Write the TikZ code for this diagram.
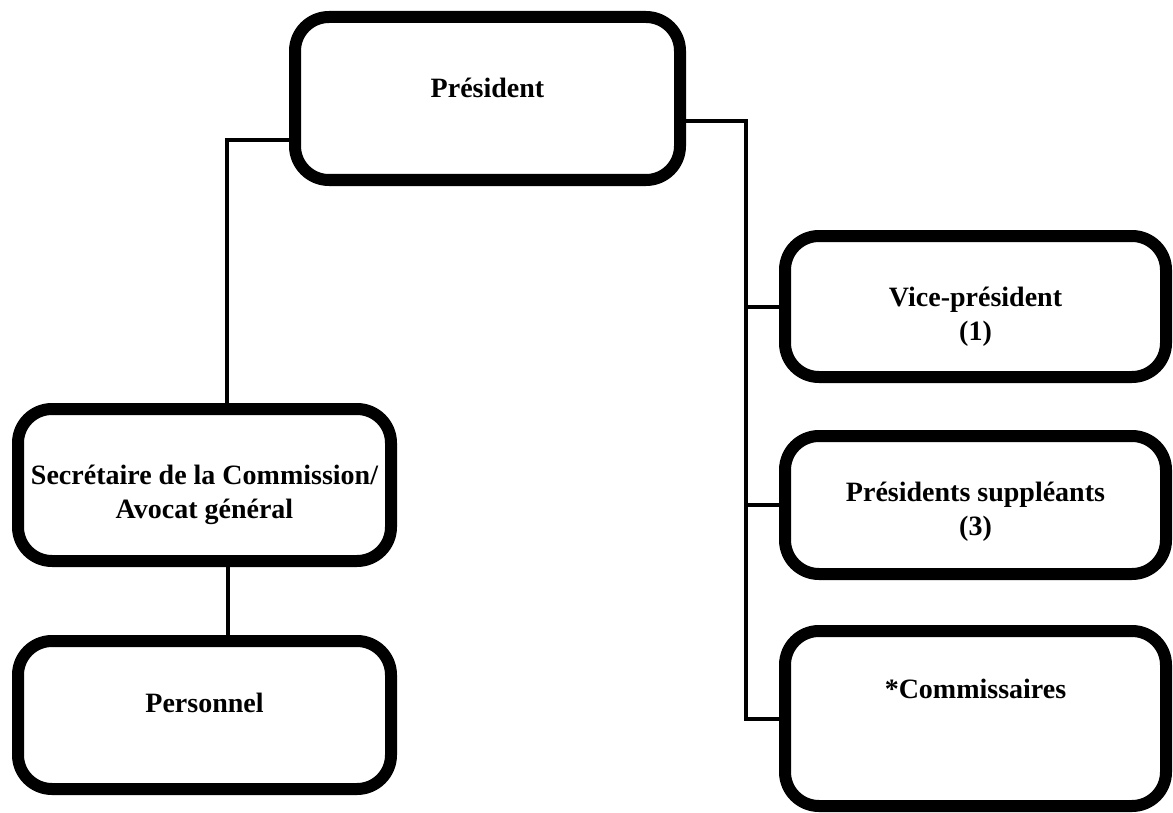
\documentclass[tikz,border=0pt]{standalone}
\usepackage{fontspec}
\setmainfont{Liberation Serif}

\tikzset{
  orgbox/.style={draw=black, line width=6pt, rounded corners=17pt,
    inner sep=0pt, minimum width=190.5pt},
  boxtext/.style={font=\bfseries\fontsize{14}{17}\selectfont, align=center},
  link/.style={draw=black, line width=2pt}
}

\begin{document}
\begin{tikzpicture}[x=0.5pt, y=-0.5pt]
  \useasboundingbox (0,0) rectangle (1173,813);

  % --- boxes -----------------------------------------------------------
  \node[orgbox, minimum width=192.5pt, minimum height=81.5pt,
        label={[boxtext, yshift=5.25pt]center:Président}] (pres) at (487.5,98.5) {};

  \node[orgbox, minimum width=186.5pt, minimum height=76pt,
        label={[boxtext, yshift=-4.75pt]center:{Secrétaire de la Commission/\\Avocat général}}]
        (sec) at (204.5,485) {};
  \node[orgbox, minimum width=186.5pt, minimum height=74pt,
        label={[boxtext, yshift=6pt]center:Personnel}] (pers) at (204.5,715) {};

  \node[orgbox, minimum height=70.5pt,
        label={[boxtext, yshift=-5.25pt]center:{Vice-président\\(1)}}] (vice) at (975.5,306.5) {};
  \node[orgbox, minimum height=69pt,
        label={[boxtext, yshift=-3.5pt]center:{Présidents suppléants\\(3)}}] (supp) at (975.5,505) {};
  \node[orgbox, minimum height=87.5pt,
        label={[boxtext, yshift=14.75pt]center:*Commissaires}] (comm) at (975.5,718.5) {};

  % --- connection points -----------------------------------------------
  \coordinate (presL)   at ([yshift=-20.75pt]pres.west);
  \coordinate (presR)   at ([yshift=-11.25pt]pres.east);
  \coordinate (secTop)  at ([xshift=11.25pt]sec.north);
  \coordinate (secBot)  at ([xshift=11.5pt]sec.south);
  \coordinate (persTop) at ([xshift=11.5pt]pers.north);
  \coordinate (trunk)   at ([xshift=-16.5pt]comm.west);

  % --- connectors ------------------------------------------------------
  \draw[link] (presL) -| (secTop);
  \draw[link] (secBot) -- (persTop);
  \draw[link] (presR) -| (trunk) -- (comm.west);
  \foreach \n in {vice, supp}
    \draw[link] (\n.west) -- (\n.west -| trunk);

\end{tikzpicture}
\end{document}
